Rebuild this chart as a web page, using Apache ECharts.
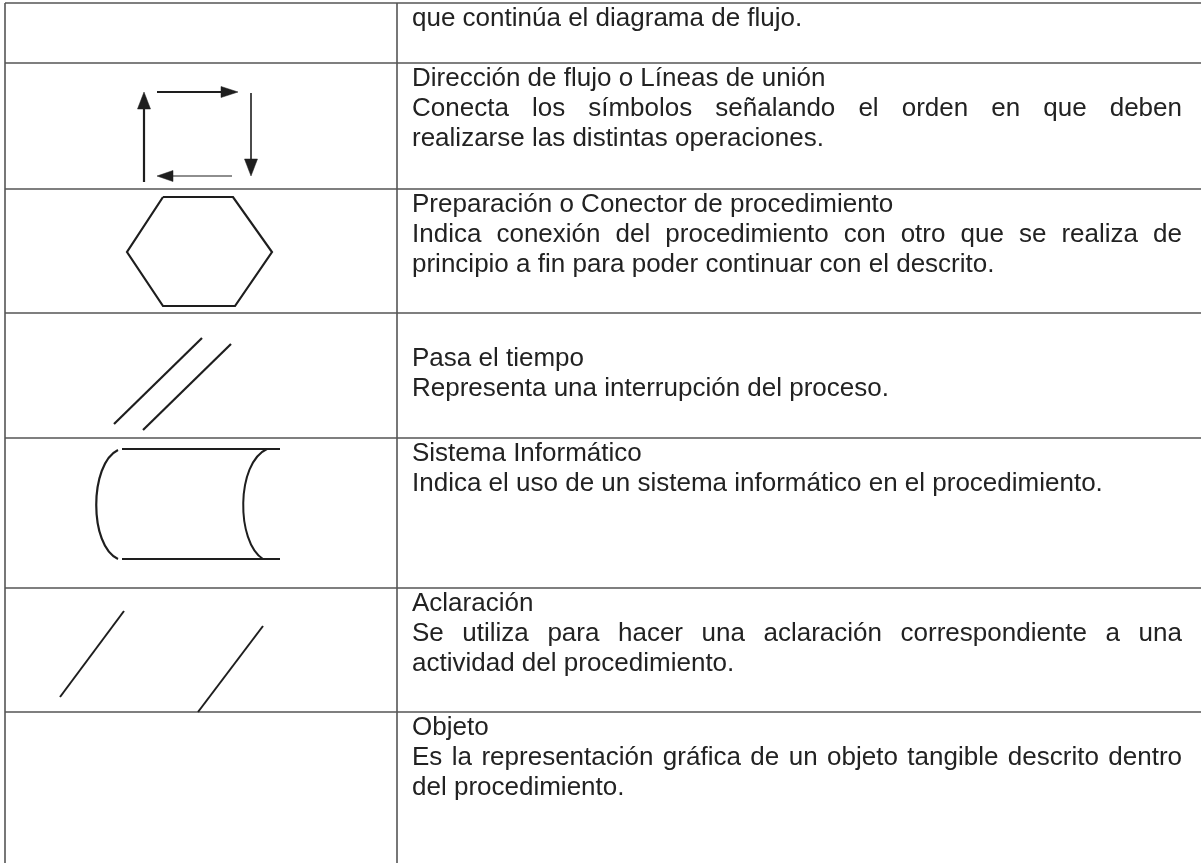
<!DOCTYPE html>
<html><head><meta charset="utf-8">
<script src="https://cdn.jsdelivr.net/npm/echarts@6/dist/echarts.min.js"></script>
<style>html,body{margin:0;padding:0;background:#fff}#c{width:1201px;height:863px}</style>
</head><body><div id="c"></div>
<script>
// ---- content (data) ----
const rowTitles = [
  '',
  'Dirección de flujo o Líneas de unión',
  'Preparación o Conector de procedimiento',
  'Pasa el tiempo',
  'Sistema Informático',
  'Aclaración',
  'Objeto'
];
const rowDescriptions = [
  ['que continúa el diagrama de flujo.'],
  ['Conecta los símbolos señalando el orden en que deben', 'realizarse las distintas operaciones.'],
  ['Indica conexión del procedimiento con otro que se realiza de', 'principio a fin para poder continuar con el descrito.'],
  ['Representa una interrupción del proceso.'],
  ['Indica el uso de un sistema informático en el procedimiento.'],
  ['Se utiliza para hacer una aclaración correspondiente a una', 'actividad del procedimiento.'],
  ['Es la representación gráfica de un objeto tangible descrito dentro', 'del procedimiento.']
];
// description lines that are justified (index within description)
const justifiedLines = [[], [0], [0], [], [], [0], [0]];
// blank lines before the title in each cell
const leadingBlankLines = [0, 0, 0, 1, 0, 0, 0];
const symbolKinds = ['none', 'flow', 'hexagon', 'time', 'system', 'note', 'none'];

// ---- layout ----
const L = {
  left: 5, divider: 397, right: 1201, top: 3,
  rowBottoms: [63, 189, 313, 438, 588, 712],
  textX: 412, textRight: 1182,
  fontSize: 26, lineStep: 29.7, firstBaseline: 25
};
const FONT = L.fontSize + 'px "Liberation Sans", Arial, sans-serif';
const TEXT_COLOR = '#222';
const GRID_COLOR = '#555';
const INK = '#1e1e1e';

const measureCtx = document.createElement('canvas').getContext('2d');
measureCtx.font = FONT;
const tw = s => measureCtx.measureText(s).width;

const elements = [];
function line(x1, y1, x2, y2, w, c) {
  elements.push({type: 'line', silent: true, shape: {x1, y1, x2, y2},
    style: {stroke: c || INK, lineWidth: w || 2, lineCap: 'butt'}});
}
function poly(points, fill, w) {
  elements.push({type: fill ? 'polygon' : 'polyline', silent: true, shape: {points},
    style: fill ? {fill: INK, stroke: INK, lineWidth: 0.5} : {fill: null, stroke: INK, lineWidth: w || 2.2, lineJoin: 'miter'}});
}
function curve(x1, y1, cpx1, cpy1, cpx2, cpy2, x2, y2, w) {
  elements.push({type: 'bezierCurve', silent: true,
    shape: {x1, y1, cpx1, cpy1, cpx2, cpy2, x2, y2},
    style: {fill: null, stroke: INK, lineWidth: w || 2.2}});
}
function text(str, x, baseline) {
  elements.push({type: 'text', silent: true, x: x, y: baseline - 0.3465 * L.fontSize,
    style: {text: str, font: FONT, fill: TEXT_COLOR, align: 'left', verticalAlign: 'middle'}});
}
function justified(str, baseline) {
  const words = str.split(' ');
  const widths = words.map(tw);
  const total = widths.reduce((a, b) => a + b, 0);
  const gap = (L.textRight - L.textX - total) / (words.length - 1);
  let x = L.textX;
  words.forEach((w, i) => { text(w, x, baseline); x += widths[i] + gap; });
}

// ---- table grid ----
const rowTops = [L.top].concat(L.rowBottoms);
line(L.left, L.top, L.right, L.top, 1.6, GRID_COLOR);
L.rowBottoms.forEach(y => line(L.left, y, L.right, y, 1.6, GRID_COLOR));
line(L.left, L.top, L.left, 863, 1.6, GRID_COLOR);
line(L.divider, L.top, L.divider, 863, 1.6, GRID_COLOR);

// ---- texts ----
rowTitles.forEach((title, r) => {
  const lines = [];
  for (let i = 0; i < leadingBlankLines[r]; i++) lines.push(null);
  if (title) lines.push({s: title, j: false});
  rowDescriptions[r].forEach((s, i) => lines.push({s, j: justifiedLines[r].includes(i)}));
  lines.forEach((ln, i) => {
    if (!ln) return;
    const b = rowTops[r] + L.firstBaseline + i * L.lineStep;
    if (ln.j) justified(ln.s, b); else text(ln.s, L.textX, b);
  });
});

// ---- symbols (drawn relative to each cell's top) ----
function drawSymbol(kind, t) {
  if (kind === 'flow') {
    // up arrow
    line(144, t + 119, 144, t + 44, 2.2);
    poly([[144, t + 29], [137.5, t + 46], [150.5, t + 46]], true);
    // right arrow (top)
    line(157, t + 29, 224, t + 29, 2.2);
    poly([[238, t + 29], [221, t + 23.5], [221, t + 34.5]], true);
    // down arrow (right)
    line(251, t + 30, 251, t + 99, 1.6);
    poly([[251, t + 113], [244.5, t + 96], [257.5, t + 96]], true);
    // left arrow (bottom, thin shaft)
    line(232, t + 113, 170, t + 113, 1.2);
    poly([[157, t + 113], [173, t + 107.5], [173, t + 118.5]], true);
  } else if (kind === 'hexagon') {
    poly([[163, t + 8], [233, t + 8], [272, t + 63], [235, t + 117], [163, t + 117], [127, t + 63], [163, t + 8]], false, 2.2);
  } else if (kind === 'time') {
    line(114, t + 111, 202, t + 25, 2.2);
    line(143, t + 117, 231, t + 31, 2.2);
  } else if (kind === 'system') {
    line(122, t + 11, 280, t + 11, 2.2);
    line(122, t + 121, 280, t + 121, 2.2);
    curve(118, t + 12, 89, t + 26, 89, t + 108, 118, t + 121, 2.2);
    curve(267, t + 11, 236, t + 25, 236, t + 104, 263, t + 121, 2);
  } else if (kind === 'note') {
    line(60, t + 109, 124, t + 23, 2);
    line(198, t + 124, 263, t + 38, 2);
  }
}
symbolKinds.forEach((k, r) => drawSymbol(k, rowTops[r]));

const chart = echarts.init(document.getElementById('c'), null, {renderer: 'canvas'});
chart.setOption({
  backgroundColor: '#fff',
  animation: false,
  graphic: {elements}
});
</script>
</body></html>
